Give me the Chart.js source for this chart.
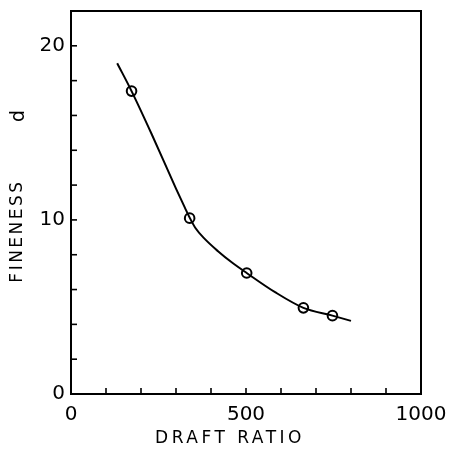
<!DOCTYPE html>
<html>
<head>
<meta charset="utf-8">
<script src="https://cdn.jsdelivr.net/npm/chart.js@4.4.1/dist/chart.umd.min.js"></script>
<style>
  html, body { margin: 0; padding: 0; background: #fff; }
  #wrap { width: 456px; height: 457px; }
</style>
</head>
<body>
<div id="wrap"><canvas id="c" width="456" height="457"></canvas></div>
<script>
// Measured points (draft ratio, fineness d)
const draftRatio = [173, 339, 502, 664, 747];
const fineness   = [17.4, 10.1, 6.95, 4.95, 4.5];
// Fitted curve
const curveX = [132, 173, 230, 300, 325, 339, 355, 380, 420, 460, 502, 583, 664, 747, 800];
const curveY = [19.0, 17.4, 14.95, 11.8, 10.72, 10.13, 9.55, 8.95, 8.2, 7.55, 6.95, 5.85, 4.95, 4.5, 4.2];
const xTickLabels = [0, 500, 1000];
const yTickLabels = [0, 10, 20];
const xTitle = 'DRAFT RATIO';
const yTitleMain = 'FINENESS';
const yTitleUnit = 'd';

const FONT = "'DejaVu Sans', 'Liberation Sans', sans-serif";

const frameAndTicks = {
  id: 'frameAndTicks',
  afterDraw(chart) {
    const { ctx, chartArea: a, scales } = chart;
    ctx.save();
    ctx.strokeStyle = '#000';
    ctx.lineWidth = 2;
    ctx.strokeRect(a.left, a.top, a.right - a.left, a.bottom - a.top);
    ctx.lineWidth = 1.6;
    const len = 6;
    scales.x.ticks.forEach(t => {
      const px = scales.x.getPixelForValue(t.value);
      ctx.beginPath(); ctx.moveTo(px, a.bottom); ctx.lineTo(px, a.bottom - len); ctx.stroke();
    });
    scales.y.ticks.forEach(t => {
      const py = scales.y.getPixelForValue(t.value);
      ctx.beginPath(); ctx.moveTo(a.left, py); ctx.lineTo(a.left + len, py); ctx.stroke();
    });
    // axis titles
    ctx.fillStyle = '#000';
    ctx.font = '17px ' + FONT;
    ctx.textAlign = 'center';
    ctx.textBaseline = 'middle';
    ctx.letterSpacing = '3.5px';
    ctx.fillText(xTitle, 230, 439);
    ctx.save();
    ctx.translate(18, 0);
    ctx.rotate(-Math.PI / 2);
    ctx.letterSpacing = '2.5px';
    ctx.fillText(yTitleMain, -231, 0);
    ctx.letterSpacing = '0px';
    ctx.font = '19px ' + FONT;
    ctx.fillText(yTitleUnit, -116, 1);
    ctx.restore();
    ctx.restore();
  }
};

new Chart(document.getElementById('c'), {
  type: 'scatter',
  data: {
    datasets: [
      {
        data: curveX.map((x, i) => ({ x, y: curveY[i] })),
        showLine: true,
        borderColor: '#000',
        borderWidth: 2,
        pointRadius: 0,
        cubicInterpolationMode: 'monotone',
        fill: false
      },
      {
        data: draftRatio.map((x, i) => ({ x, y: fineness[i] })),
        showLine: false,
        pointRadius: 4.8,
        pointBackgroundColor: '#fff',
        pointBorderColor: '#000',
        pointBorderWidth: 2
      }
    ]
  },
  options: {
    responsive: false,
    animation: false,
    layout: { padding: { top: 11, right: 35, left: 0, bottom: 0 } },
    plugins: { legend: { display: false }, tooltip: { enabled: false } },
    scales: {
      x: {
        type: 'linear', min: 0, max: 1000,
        grid: { display: false, drawTicks: false },
        border: { display: false },
        ticks: {
          stepSize: 100, padding: 9, color: '#000', maxRotation: 0, autoSkip: false,
          font: { family: FONT, size: 20 },
          callback: v => xTickLabels.includes(v) ? String(v) : ''
        },
        afterFit: s => { s.height = 63; s.paddingLeft = 0; s.paddingRight = 0; }
      },
      y: {
        type: 'linear', min: 0, max: 22,
        grid: { display: false, drawTicks: false },
        border: { display: false },
        ticks: {
          stepSize: 2, padding: 6, color: '#000', autoSkip: false,
          font: { family: FONT, size: 20 },
          callback: v => yTickLabels.includes(v) ? String(v) : ''
        },
        afterFit: s => { s.width = 71; s.paddingTop = 0; s.paddingBottom = 0; }
      }
    }
  },
  plugins: [frameAndTicks]
});
</script>
</body>
</html>
